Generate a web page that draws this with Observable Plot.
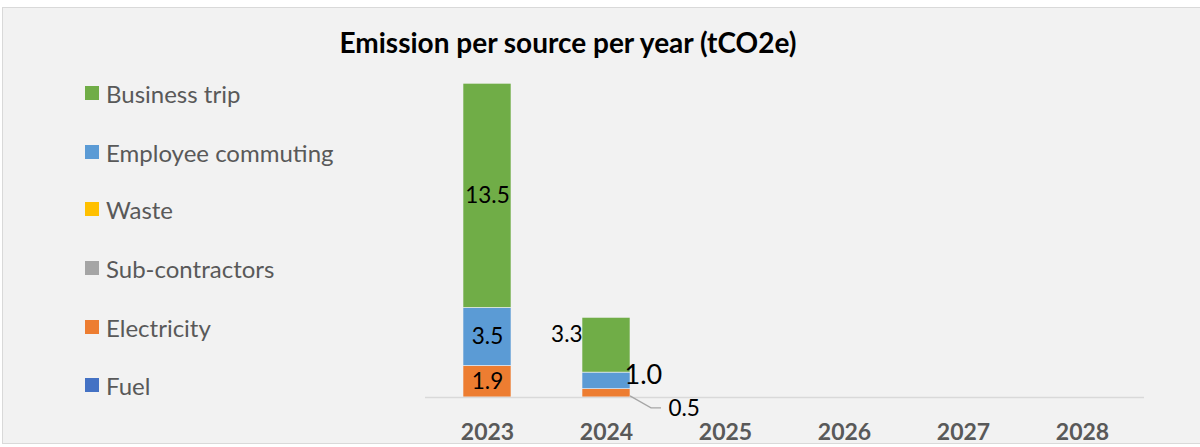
<!DOCTYPE html>
<html>
<head>
<meta charset="utf-8">
<script src="https://cdn.jsdelivr.net/npm/d3@7"></script>
<script src="https://cdn.jsdelivr.net/npm/@observablehq/plot@0.6"></script>
<style>
  html, body { margin: 0; padding: 0; background: #ffffff; }
  body { width: 1200px; height: 447px; position: relative; overflow: hidden; font-family: Lato, "Open Sans", sans-serif; }
  #frame { position: absolute; left: 2px; top: 7px; width: 1210px; height: 437px; background: #f2f2f2; border: 1px solid #d9d9d9; box-sizing: border-box; }
  #chart { position: absolute; left: 0; top: 0; }
  #title { position: absolute; left: 0; width: 1136px; top: 26px; text-align: center; font-weight: bold; font-size: 28px; color: #000; line-height: 32px; }
  #legend { position: absolute; left: 85px; top: 0; }
  .item { position: absolute; left: 0; display: flex; align-items: center; white-space: nowrap; font-size: 24px; color: #595959; height: 30px; }
  .sw { width: 14px; height: 14px; margin-right: 7px; flex: none; }
</style>
</head>
<body>
<div id="frame"></div>
<div id="chart"></div>
<div id="title">Emission per source per year (tCO2e)</div>
<div id="legend"></div>
<script>
// ---- data ----
const years = ["2023", "2024", "2025", "2026", "2027", "2028"];
const sources = ["Fuel", "Electricity", "Sub-contractors", "Waste", "Employee commuting", "Business trip"];
const colors = ["#4472c4", "#ed7d31", "#a5a5a5", "#ffc000", "#5b9bd5", "#70ad47"];
const fuel = [0, 0, 0, 0, 0, 0];
const electricity = [1.9, 0.5, 0, 0, 0, 0];
const subcontractors = [0, 0, 0, 0, 0, 0];
const waste = [0, 0, 0, 0, 0, 0];
const commuting = [3.5, 1.0, 0, 0, 0, 0];
const businessTrip = [13.5, 3.3, 0, 0, 0, 0];
const seriesValues = [fuel, electricity, subcontractors, waste, commuting, businessTrip];

// long table
const table = [];
years.forEach((yr, i) => {
  sources.forEach((s, j) => {
    table.push({year: yr, source: s, value: seriesValues[j][i]});
  });
});

const stackOpts = {x: "year", y: "value", z: "source", order: sources};

const leader = (index, scales) => {
  const sx = scales.x, sy = scales.y;
  const bw = typeof sx.bandwidth === "function" ? sx.bandwidth() : (scales.scales && scales.scales.x ? scales.scales.x.bandwidth : 0);
  const xc = sx("2024") + bw / 2;
  const e = electricity[years.indexOf("2024")];
  const ym = sy(e / 2);
  const path = document.createElementNS("http://www.w3.org/2000/svg", "path");
  path.setAttribute("d", `M${xc + bw / 2},${ym + 3}L${xc + bw / 2 + 21},${ym + 15}L${xc + bw / 2 + 31},${ym + 15}`);
  path.setAttribute("fill", "none");
  path.setAttribute("stroke", "#a6a6a6");
  path.setAttribute("stroke-width", "1.3");
  return path;
};

const chart = Plot.plot({
  width: 1200,
  height: 447,
  marginLeft: 425,
  marginRight: 56,
  marginTop: 65,
  marginBottom: 50,
  style: {background: "transparent", fontFamily: "Lato, 'Open Sans', sans-serif", overflow: "visible"},
  x: {domain: years, type: "band", paddingInner: 0.6, paddingOuter: 0.3, label: null},
  y: {domain: [0, 20], axis: null},
  color: {domain: sources, range: colors},
  marks: [
    Plot.barY(table, Plot.stackY({...stackOpts, fill: "source", stroke: "#f2f2f2", strokeWidth: 0.6})),
    Plot.ruleY([0], {stroke: "#d9d9d9", strokeWidth: 1.6}),
    Plot.axisX({tickSize: 0, tickPadding: 26, fontSize: 23, fontWeight: "bold", fill: "#595959", label: null}),
    Plot.text(table, Plot.stackY({...stackOpts, text: d => d.value > 0 && d.year !== "2024" ? d.value.toFixed(1) : null, fill: "#000", fontSize: 22.5})),
    Plot.text(table, Plot.stackY({...stackOpts, text: d => d.year === "2024" && d.source === "Business trip" ? d.value.toFixed(1) : null, fill: "#000", fontSize: 22.5, textAnchor: "end", dx: -24, dy: -10})),
    Plot.text(table, Plot.stackY({...stackOpts, text: d => d.year === "2024" && d.source === "Employee commuting" ? d.value.toFixed(1) : null, fill: "#000", fontSize: 27, textAnchor: "start", dx: 18, dy: -6})),
    Plot.text(table, Plot.stackY({...stackOpts, text: d => d.year === "2024" && d.source === "Electricity" ? d.value.toFixed(1) : null, fill: "#000", fontSize: 22.5, textAnchor: "start", dx: 62, dy: 15})),
    leader
  ]
});
document.getElementById("chart").appendChild(chart);

// legend (top to bottom is reverse of stack order)
const legend = document.getElementById("legend");
const legendTops = [78, 137, 194, 253, 312, 370];
sources.slice().reverse().forEach((s, i) => {
  const item = document.createElement("div");
  item.className = "item";
  item.style.top = legendTops[i] + "px";
  const sw = document.createElement("span");
  sw.className = "sw";
  sw.style.background = colors[sources.indexOf(s)];
  const t = document.createElement("span");
  t.textContent = s;
  item.appendChild(sw);
  item.appendChild(t);
  legend.appendChild(item);
});
</script>
</body>
</html>
